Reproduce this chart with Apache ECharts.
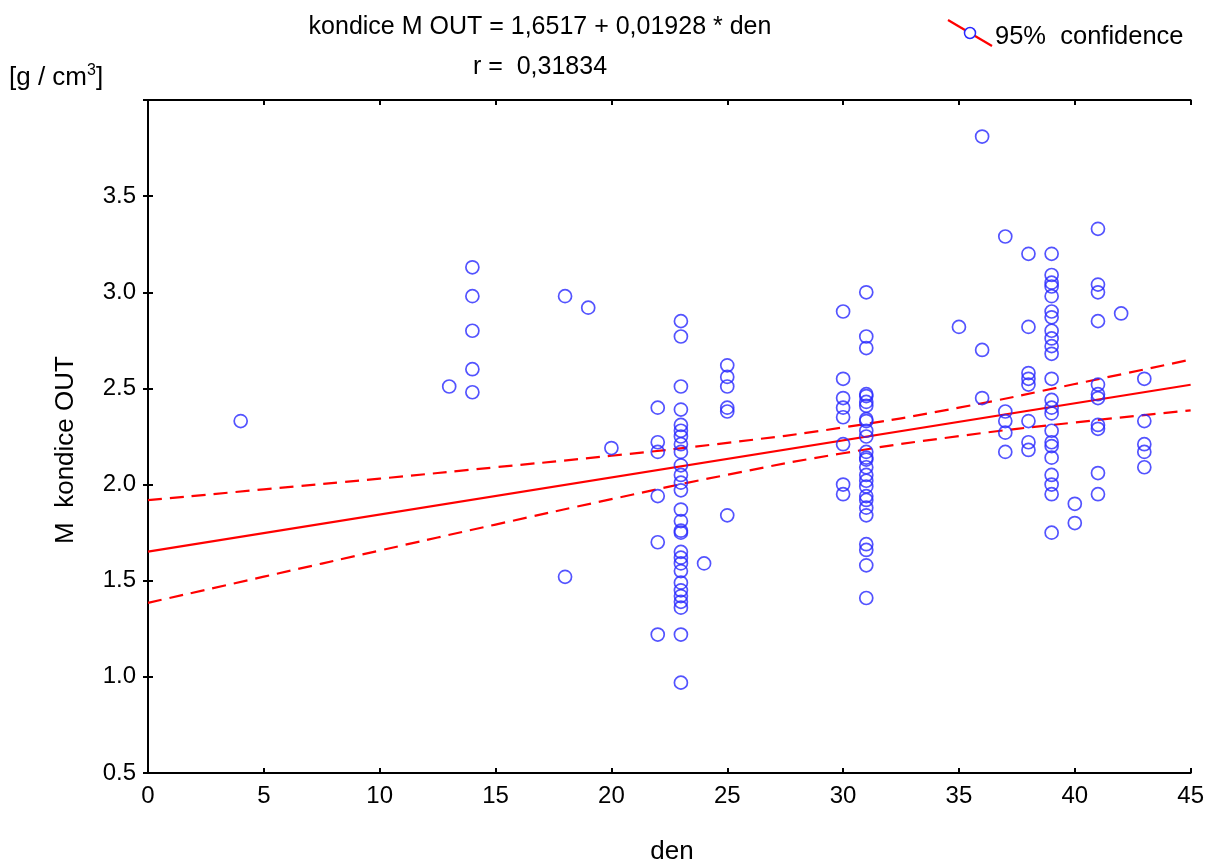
<!DOCTYPE html>
<html>
<head>
<meta charset="utf-8">
<script src="https://cdn.jsdelivr.net/npm/echarts@6/dist/echarts.min.js"></script>
<style>
html,body{margin:0;padding:0;background:#fff;overflow:hidden;}
#chart{width:1207px;height:867px;}
</style>
</head>
<body>
<div id="chart"></div>
<script>
// Scatter data: x = den, values = M kondice OUT for that den
const den4  = [2.33];
const den13 = [2.51];
const den14 = [3.13, 2.98, 2.80, 2.60, 2.48];
const den18 = [2.98, 1.52];
const den19 = [2.92];
const den20 = [2.19];
const den22 = [2.40, 2.22, 2.17, 1.94, 1.70, 1.22];
const den23 = [2.85, 2.77, 2.51, 2.39, 2.31, 2.28, 2.25, 2.21, 2.17, 2.10, 2.05, 2.01, 1.97, 1.87, 1.81, 1.76, 1.75, 1.65, 1.62, 1.59, 1.55, 1.49, 1.45, 1.42, 1.39, 1.36, 1.22, 0.97];
const den24 = [1.59];
const den25 = [2.62, 2.56, 2.51, 2.40, 2.38, 1.84];
const den30 = [2.90, 2.55, 2.45, 2.40, 2.35, 2.21, 2.00, 1.95];
const den31 = [3.00, 2.77, 2.71, 2.47, 2.46, 2.43, 2.41, 2.34, 2.33, 2.28, 2.25, 2.17, 2.14, 2.13, 2.09, 2.05, 2.02, 1.99, 1.94, 1.92, 1.88, 1.84, 1.69, 1.66, 1.58, 1.41];
const den35 = [2.82];
const den36 = [3.81, 2.70, 2.45];
const den37 = [3.29, 2.38, 2.33, 2.27, 2.17];
const den38 = [3.20, 2.82, 2.58, 2.55, 2.52, 2.33, 2.22, 2.18];
const den39 = [3.20, 3.09, 3.05, 3.03, 2.98, 2.90, 2.87, 2.80, 2.76, 2.72, 2.68, 2.55, 2.44, 2.40, 2.37, 2.28, 2.22, 2.20, 2.14, 2.05, 2.00, 1.95, 1.75];
const den40 = [1.90, 1.80];
const den41 = [3.33, 3.04, 3.00, 2.85, 2.52, 2.47, 2.45, 2.31, 2.29, 2.06, 1.95];
const den42 = [2.89];
const den43 = [2.55, 2.33, 2.21, 2.17, 2.09];

const groups = [
  [4, den4], [13, den13], [14, den14], [18, den18], [19, den19], [20, den20],
  [22, den22], [23, den23], [24, den24], [25, den25], [30, den30], [31, den31],
  [35, den35], [36, den36], [37, den37], [38, den38], [39, den39], [40, den40],
  [41, den41], [42, den42], [43, den43]
];

// Regression line endpoints (from equation in title)
const fitX = [0, 45];
const fitY = [1.6517, 2.5193];

// 95% confidence band
const bandX     = [0, 5, 10, 15, 20, 25, 30, 35, 40, 45];
const bandUpper = [1.919, 1.975, 2.031, 2.090, 2.150, 2.217, 2.297, 2.400, 2.523, 2.650];
const bandLower = [1.385, 1.521, 1.657, 1.792, 1.924, 2.051, 2.163, 2.252, 2.323, 2.386];

const scatterData = [];
groups.forEach(g => g[1].forEach(v => scatterData.push([g[0], v])));
const zip = (a, b) => a.map((x, i) => [x, b[i]]);

const FONT = 'Liberation Sans, Arial, sans-serif';
const FS = 25;
const chart = echarts.init(document.getElementById('chart'), null, {width: 1207, height: 867});
const axisCommon = {
  axisLine: {show: true, lineStyle: {color: '#000', width: 2}},
  axisTick: {show: true, inside: true, length: 5, lineStyle: {color: '#000', width: 2}},
  splitLine: {show: false}
};
chart.setOption({
  animation: false,
  backgroundColor: '#fff',
  grid: {left: 148, right: 10, top: 100, bottom: 94, show: false},
  xAxis: [
    Object.assign({
      type: 'value', min: 0, max: 45, interval: 5, position: 'bottom',
      axisLabel: {fontSize: FS - 1, color: '#000', fontFamily: FONT, margin: 11}
    }, axisCommon),
    Object.assign({
      type: 'value', min: 0, max: 45, interval: 5, position: 'top',
      axisLabel: {show: false}
    }, axisCommon)
  ],
  yAxis: [
    Object.assign({
      type: 'value', min: 0.5, max: 4.0, interval: 0.5, position: 'left',
      axisLabel: {fontSize: FS - 1, color: '#000', fontFamily: FONT, margin: 12,
        formatter: v => (v >= 3.99 ? '' : v.toFixed(1))}
    }, axisCommon),
    Object.assign({
      type: 'value', min: 0.5, max: 4.0, interval: 0.5, position: 'right',
      axisLabel: {show: false}
    }, axisCommon)
  ],
  series: [
    {
      type: 'line', data: zip(bandX, bandUpper), showSymbol: false, smooth: true,
      lineStyle: {color: '#ff0000', width: 2.2, type: [14, 8]}, z: 3
    },
    {
      type: 'line', data: zip(bandX, bandLower), showSymbol: false, smooth: true,
      lineStyle: {color: '#ff0000', width: 2.2, type: [14, 8]}, z: 3
    },
    {
      type: 'line', data: zip(fitX, fitY), showSymbol: false,
      lineStyle: {color: '#ff0000', width: 2.2}, z: 3
    },
    {
      type: 'scatter', data: scatterData, symbol: 'circle', symbolSize: 13,
      itemStyle: {color: 'rgba(0,0,0,0)', borderColor: '#2828ff', borderWidth: 1.7},
      z: 4
    }
  ],
  graphic: [
    {type: 'text', style: {
      text: 'kondice M OUT = 1,6517 + 0,01928 * den', x: 540, y: 27,
      align: 'center', verticalAlign: 'middle', fontSize: FS, fill: '#000', fontFamily: FONT}},
    {type: 'text', style: {
      text: 'r =  0,31834', x: 540, y: 67,
      align: 'center', verticalAlign: 'middle', fontSize: FS, fill: '#000', fontFamily: FONT}},
    {type: 'text', style: {
      text: '{a|[g / cm}{s|3}{a|]}', x: 9, y: 77, verticalAlign: 'middle',
      rich: {
        a: {fontSize: 26, fill: '#000', fontFamily: FONT, verticalAlign: 'bottom'},
        s: {fontSize: 16, fill: '#000', fontFamily: FONT, verticalAlign: 'top', padding: [0, 0, 12, 0]}
      }}},
    {type: 'text', x: 66, y: 450, rotation: Math.PI / 2, style: {
      text: 'M  kondice OUT', x: 0, y: 0, align: 'center', verticalAlign: 'middle',
      fontSize: FS + 1, fill: '#000', fontFamily: FONT}},
    {type: 'text', style: {
      text: 'den', x: 672, y: 852, align: 'center', verticalAlign: 'middle',
      fontSize: FS + 1, fill: '#000', fontFamily: FONT}},
    {type: 'line', shape: {x1: 948, y1: 20, x2: 992, y2: 46},
      style: {stroke: '#ff0000', lineWidth: 2.2}},
    {type: 'circle', shape: {cx: 970, cy: 33, r: 5.5},
      style: {fill: '#fff', stroke: '#2828ff', lineWidth: 1.5}},
    {type: 'text', style: {
      text: '95%  confidence', x: 995, y: 37, verticalAlign: 'middle',
      fontSize: FS + 0.5, fill: '#000', fontFamily: FONT}}
  ]
});
</script>
</body>
</html>
